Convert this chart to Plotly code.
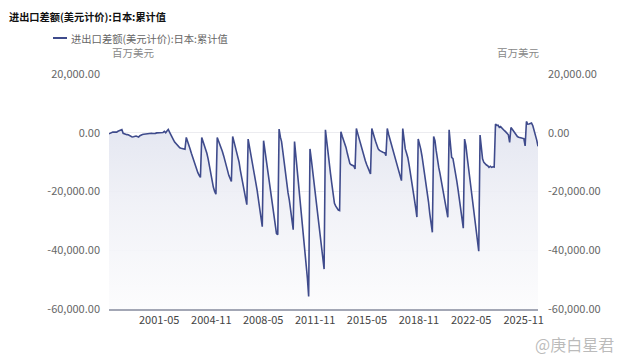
import pandas as pd
import plotly.graph_objects as go

# ---------------- data (millions USD, cumulative year-to-date) ----------------
START_MONTH = "1998-01-01"

Y1998 = [-340, -100, 100, 220, 220, 220, 220, 500, 800, 1000, 1100, -200]
Y1999 = [-400, -550, -650, -700, -900, -1200, -1450, -1350, -1200, -1100, -1300, -1450]
Y2000 = [-1000, -700, -600, -500, -400, -340, -300, -200, -100, -150, -250, -340]
Y2001 = [-200, -50, 0, 0, 0, 0, 100, 450, 0, 600, 1100, 220]
Y2002 = [-500, -1450, -2300, -3150, -3700, -4300, -4850, -5100, -5300, -5400, -5500, -5600]
Y2003 = [-1600, -2800, -4000, -5500, -7000, -8500, -10000, -11300, -12500, -13600, -14500, -15200]
Y2004 = [-1600, -3000, -4200, -5200, -7000, -9000, -11500, -14000, -16500, -18500, -20000, -20900]
Y2005 = [-1600, -2700, -3800, -5200, -6300, -7800, -9800, -11000, -12800, -14500, -15800, -16600]
Y2006 = [-1250, -3000, -4500, -6200, -7800, -10000, -12800, -15000, -17500, -20000, -22500, -24500]
Y2007 = [-2150, -4500, -7000, -9500, -12000, -14500, -17000, -19500, -22500, -25500, -29000, -32000]
Y2008 = [-2700, -6000, -9000, -12000, -15000, -18500, -22000, -25500, -29000, -32500, -34300, -34700]
Y2009 = [1250, -1500, -3000, -6500, -10500, -13500, -17000, -20500, -23000, -26500, -30500, -33000]
Y2010 = [-3000, -7500, -12000, -16500, -21000, -25500, -30000, -34500, -39000, -44000, -49500, -55700]
Y2011 = [-5500, -9000, -12500, -16000, -19500, -23000, -26500, -30000, -33500, -37500, -42000, -46400]
Y2012 = [1000, -3500, -7500, -11000, -14000, -17500, -21000, -24000, -25000, -25800, -26300, -26500]
Y2013 = [340, -1200, -2200, -3500, -5000, -7000, -9000, -10500, -10900, -11100, -11300, -12300]
Y2014 = [1450, -200, -1800, -3500, -5000, -6500, -8000, -9500, -10800, -11800, -12500, -14000]
Y2015 = [1450, 200, -1500, -3000, -4500, -5500, -6000, -6400, -6500, -6700, -6800, -7800]
Y2016 = [1450, -500, -2000, -3500, -5500, -7000, -8500, -10000, -11500, -13000, -14800, -16300]
Y2017 = [1450, -3300, -5500, -7000, -8500, -11000, -13500, -16500, -19500, -22500, -25500, -28700]
Y2018 = [-2150, -3500, -5500, -8000, -11000, -13500, -15500, -19000, -23500, -27500, -31000, -33900]
Y2019 = [-1250, -2700, -6000, -10100, -11800, -14000, -16500, -19000, -21500, -24000, -26500, -28800]
Y2020 = [1000, -5000, -8400, -8800, -11000, -13500, -16500, -19500, -22500, -25500, -29000, -32500]
Y2021 = [-2150, -4400, -8000, -11500, -15000, -18500, -22000, -25500, -29000, -32500, -36500, -40300]
Y2022 = [-800, -5000, -8900, -10100, -10600, -11000, -11200, -11800, -11400, -11800, -11600, -11700]
Y2023 = [2950, 2500, 2600, 1800, 2100, 1500, 1200, 700, 300, -200, -700, -3300]
Y2024 = [1800, 1200, 600, -300, -1000, -1300, -1500, -1700, -1800, -1900, -2000, -4500]
Y2025 = [3850, 2900, 2950, 3000, 3300, 2400, 1000, -500, -2500, -4600]

YEARS = [Y1998, Y1999, Y2000, Y2001, Y2002, Y2003, Y2004, Y2005, Y2006, Y2007,
         Y2008, Y2009, Y2010, Y2011, Y2012, Y2013, Y2014, Y2015, Y2016, Y2017,
         Y2018, Y2019, Y2020, Y2021, Y2022, Y2023, Y2024, Y2025]

values = [v for yr in YEARS for v in yr]
dates = pd.date_range(START_MONTH, periods=len(values), freq="MS")

# axis ticks
X_TICK_TEXT = ["2001-05", "2004-11", "2008-05", "2011-11", "2015-05", "2018-11", "2022-05", "2025-11"]
X_TICK_POS = ["2001-04-01", "2004-08-14", "2007-12-23", "2011-05-04", "2014-09-09",
              "2018-01-19", "2021-06-06", "2024-10-28"]
Y_TICK_VALS = [-60000, -40000, -20000, 0, 20000]
Y_TICK_TEXT = ["-60,000.00", "-40,000.00", "-20,000.00", "0.00", "20,000.00"]
Y_MIN, Y_MAX = -60000, 20000

TITLE = "进出口差额(美元计价):日本:累计值"
SERIES_NAME = "进出口差额(美元计价):日本:累计值"
UNIT = "百万美元"
WATERMARK = "@庚白星君"

# ---------------- layout geometry ----------------
W, H = 640, 360
L, R, T, B = 109, 102, 74, 51
PW, PH = W - L - R, H - T - B


def px(xp):
    return (xp - L) / PW


def py(yp):
    return (H - B - yp) / PH


FONT = "Noto Sans CJK SC, Microsoft YaHei, sans-serif"
LINE_COLOR = "#3f4b8c"

fig = go.Figure()

# baseline for the area fill (bottom of the value axis)
fig.add_trace(go.Scatter(
    x=dates, y=[Y_MIN] * len(values), mode="lines",
    line=dict(width=0, color="rgba(0,0,0,0)"),
    hoverinfo="skip", showlegend=False,
))

fig.add_trace(go.Scatter(
    x=dates, y=values, mode="lines", name=SERIES_NAME,
    line=dict(color=LINE_COLOR, width=1.6),
    fill="tonexty",
    fillgradient=dict(
        type="vertical",
        colorscale=[[0, "rgba(252,252,253,0.9)"], [0.55, "rgba(239,240,246,0.9)"],
                    [1, "rgba(224,227,239,0.9)"]],
        start=Y_MIN, stop=5000,
    ),
    showlegend=False,
))

# same series bound to the right-hand value axis (invisible, so that axis is drawn)
fig.add_trace(go.Scatter(
    x=dates, y=values, mode="lines", yaxis="y2",
    line=dict(width=0, color="rgba(0,0,0,0)"),
    hoverinfo="skip", showlegend=False,
))

fig.update_layout(
    width=W, height=H,
    margin=dict(l=L, r=R, t=T, b=B),
    paper_bgcolor="white", plot_bgcolor="white",
    font=dict(family=FONT, size=11, color="#555"),
    showlegend=False,
    title=dict(text="<b>" + TITLE + "</b>", x=9 / W, xref="container", xanchor="left",
               y=1 - 17 / H, yref="container", yanchor="middle",
               font=dict(family=FONT, size=10.2, color="#111")),
    xaxis=dict(
        type="date", range=[dates[0], dates[-1]],
        tickmode="array", tickvals=X_TICK_POS, ticktext=X_TICK_TEXT,
        showgrid=False, zeroline=False, ticks="",
        showline=True, linecolor="#a3a7b5", linewidth=1.5,
        tickfont=dict(family=FONT, size=11, color="#444"),
        automargin=False,
    ),
    yaxis=dict(
        range=[Y_MIN, Y_MAX], tickmode="array", tickvals=Y_TICK_VALS, ticktext=Y_TICK_TEXT,
        showgrid=True, gridcolor="#ececf0", gridwidth=1, zeroline=False, ticks="",
        ticklabelstandoff=8, automargin=False,
        tickfont=dict(family=FONT, size=11, color="#666"),
    ),
    yaxis2=dict(
        overlaying="y", side="right",
        range=[Y_MIN, Y_MAX], tickmode="array", tickvals=Y_TICK_VALS, ticktext=Y_TICK_TEXT,
        showgrid=False, zeroline=False, ticks="", ticklabelstandoff=9, automargin=False,
        tickfont=dict(family=FONT, size=11, color="#666"),
    ),
)

# manual legend (short line + text)
fig.add_shape(type="line", xref="paper", yref="paper",
              x0=px(53), x1=px(67), y0=py(38), y1=py(38),
              line=dict(color=LINE_COLOR, width=2))
fig.add_annotation(text=SERIES_NAME, xref="paper", yref="paper", x=px(69), y=py(38),
                   xanchor="left", yanchor="middle", showarrow=False,
                   font=dict(family=FONT, size=10.3, color="#666"))

# unit labels
fig.add_annotation(text=UNIT, xref="paper", yref="paper", x=px(110), y=py(52.5),
                   xanchor="left", yanchor="middle", showarrow=False,
                   font=dict(family=FONT, size=10.5, color="#888"))
fig.add_annotation(text=UNIT, xref="paper", yref="paper", x=px(542), y=py(52.5),
                   xanchor="right", yanchor="middle", showarrow=False,
                   font=dict(family=FONT, size=10.5, color="#888"))

# watermark
fig.add_annotation(text=WATERMARK, xref="paper", yref="paper", x=px(616), y=py(344),
                   xanchor="right", yanchor="middle", showarrow=False,
                   font=dict(family=FONT, size=16, color="rgba(175,175,175,0.85)"))

fig.write_html("out.html", config=dict(displayModeBar=False),
               post_script="document.body.style.margin='0';")
